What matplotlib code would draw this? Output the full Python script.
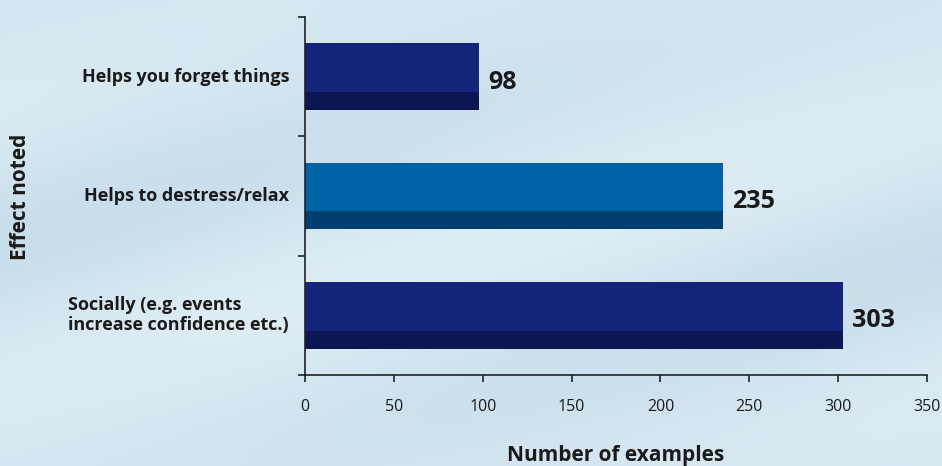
import numpy as np
import matplotlib.pyplot as plt
from matplotlib.transforms import offset_copy

plt.rcParams['font.family'] = ['Open Sans', 'DejaVu Sans']

categories = ['Helps you forget things', 'Helps to destress/relax',
              'Socially (e.g. events\nincrease confidence etc.)']
values = [98, 235, 303]
colors = ['#13247a', '#0063a8', '#13247a']
shade = ['#0d1652', '#003f70', '#0d1652']
xticks = [0, 50, 100, 150, 200, 250, 300, 350]

fig = plt.figure(figsize=(9.42, 4.66), dpi=100)

# soft sky background
bg = fig.add_axes([0, 0, 1, 1], zorder=-1)
yy, xx = np.mgrid[0:1:300j, 0:1:600j]
sky = 0.5 + 0.3 * np.sin(6 * xx + 9 * yy) * np.exp(-((yy - 0.55) ** 2) / 0.2)
base = np.array([0.83, 0.90, 0.94])
img = base[None, None, :] + (sky[..., None] - 0.5) * np.array([0.14, 0.10, 0.06])
bg.imshow(np.clip(img, 0, 1), aspect='auto', extent=[0, 1, 0, 1])
bg.axis('off')

ax = fig.add_axes([0.3238, 0.1953, 0.6603, 0.7682])
ax.patch.set_alpha(0)

h = 0.56
dark = 0.27
for i, (v, c, s) in enumerate(zip(values, colors, shade)):
    y = i + 0.5
    top = y - h / 2
    ax.barh(top + h * (1 - dark) / 2, v, height=h * (1 - dark), color=c, align='center')
    ax.barh(top + h * (1 - dark) + h * dark / 2, v, height=h * dark, color=s, align='center')
    ax.text(v, y + 0.045, str(v), va='center', ha='left',
            fontsize=18, fontweight='bold', color='#1a1a1a',
            transform=offset_copy(ax.transData, fig=fig, x=9, units='dots'))

ax.set_xlim(0, 350)
ax.set_ylim(3, 0)
ax.set_xticks(xticks)
ax.set_yticks([0, 1, 2, 3])
ax.set_yticklabels([])
lab_tr = offset_copy(ax.transData, fig=fig, x=-16, units='dots')
for i, lab in enumerate(categories):
    ax.text(0, i + 0.5, lab, ha='right', multialignment='left',
            va='center', fontsize=13, fontweight='bold', color='#1a1a1a',
            linespacing=1.15, transform=lab_tr)

for sp in ['top', 'right']:
    ax.spines[sp].set_visible(False)
for sp in ['left', 'bottom']:
    ax.spines[sp].set_color('#222222')
    ax.spines[sp].set_linewidth(1.2)
ax.tick_params(axis='both', direction='out', length=5, width=1.2, color='#222222')
ax.tick_params(axis='x', pad=12, labelsize=11.5, labelcolor='#1a1a1a')

fig.text(0.654, 0.045, 'Number of examples', ha='center', va='top',
         fontsize=15, fontweight='bold', color='#1a1a1a')
fig.text(0.022, 0.577, 'Effect noted', rotation=90, ha='center', va='center',
         fontsize=15, fontweight='bold', color='#1a1a1a')

fig.savefig('out.png', dpi=100)
